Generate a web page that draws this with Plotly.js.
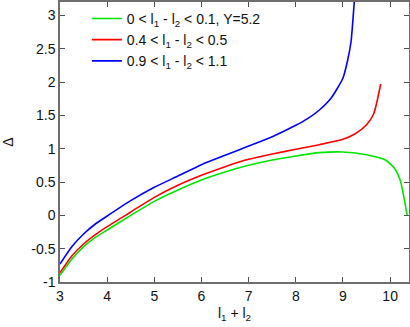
<!DOCTYPE html>
<html>
<head>
<meta charset="utf-8">
<script src="https://cdn.plot.ly/plotly-3.0.1.min.js"></script>
<style>
  html, body { margin: 0; padding: 0; background: #fff; }
  #chart { width: 410px; height: 327px; }
</style>
</head>
<body>
<div id="chart"></div>
<script>
// l1 + l2 values and Delta
var xGreen = [3.0, 3.25, 3.5, 3.75, 4.0, 4.5, 5.0, 5.5, 6.0, 6.5, 7.0, 7.5, 8.0, 8.5, 9.0, 9.5, 9.9, 10.1, 10.22, 10.36];
var yGreen = [-0.90, -0.66, -0.47, -0.33, -0.22, 0.0, 0.21, 0.38, 0.53, 0.65, 0.75, 0.83, 0.89, 0.94, 0.95, 0.91, 0.83, 0.70, 0.51, 0.0];

var xRed = [3.0, 3.25, 3.5, 3.75, 4.0, 4.5, 5.0, 5.5, 6.0, 6.5, 7.0, 7.5, 8.0, 8.5, 9.0, 9.25, 9.5, 9.65, 9.8];
var yRed = [-0.86, -0.61, -0.43, -0.29, -0.17, 0.05, 0.27, 0.45, 0.60, 0.73, 0.84, 0.92, 0.99, 1.06, 1.14, 1.22, 1.36, 1.52, 1.97];

var xBlue = [3.0, 3.25, 3.5, 3.75, 4.0, 4.5, 5.0, 5.5, 6.0, 6.5, 7.0, 7.5, 8.0, 8.25, 8.5, 8.75, 9.0, 9.1, 9.17, 9.2, 9.25];
var yBlue = [-0.73, -0.47, -0.28, -0.13, -0.01, 0.22, 0.42, 0.59, 0.76, 0.90, 1.04, 1.18, 1.35, 1.45, 1.58, 1.76, 2.06, 2.33, 2.6, 2.83, 3.3];

var names = [
  '0 < l<sub>1</sub> - l<sub>2</sub> < 0.1, Y=5.2',
  '0.4 < l<sub>1</sub> - l<sub>2</sub> < 0.5',
  '0.9 < l<sub>1</sub> - l<sub>2</sub> < 1.1'
];

var data = [
  {x: xGreen, y: yGreen, type: 'scatter', mode: 'lines', name: names[0],
   line: {color: 'rgb(0, 230, 0)', width: 1.6, shape: 'spline', smoothing: 0.6}},
  {x: xRed, y: yRed, type: 'scatter', mode: 'lines', name: names[1],
   line: {color: 'rgb(255, 0, 0)', width: 1.6, shape: 'spline', smoothing: 0.6}},
  {x: xBlue, y: yBlue, type: 'scatter', mode: 'lines', name: names[2],
   line: {color: 'rgb(0, 0, 255)', width: 1.6, shape: 'spline', smoothing: 0.6}}
];

var axisStyle = {
  showgrid: false,
  zeroline: false,
  showline: true,
  mirror: 'ticks',
  linecolor: 'rgb(110, 110, 110)',
  linewidth: 1.5,
  ticks: 'inside',
  ticklen: 5,
  tickwidth: 1,
  tickcolor: 'rgb(80, 80, 80)',
  tickfont: {size: 14, color: '#111'}
};

var layout = {
  width: 410,
  height: 327,
  margin: {l: 60, r: 1, t: 2, b: 45},
  paper_bgcolor: '#fff',
  plot_bgcolor: '#fff',
  font: {family: 'Liberation Sans, Arial, sans-serif', size: 14, color: '#111'},
  showlegend: true,
  legend: {
    x: 0.077, y: 0.997, xanchor: 'left', yanchor: 'top',
    bgcolor: 'rgba(0,0,0,0)',
    font: {size: 14},
    tracegroupgap: 0
  },
  xaxis: Object.assign({}, axisStyle, {
    range: [3, 10.4],
    tickvals: [3, 4, 5, 6, 7, 8, 9, 10],
    title: {text: 'l<sub>1</sub> + l<sub>2</sub>', standoff: 6, font: {size: 14}}
  }),
  yaxis: Object.assign({}, axisStyle, {
    range: [-1, 3.2],
    tickvals: [-1, -0.5, 0, 0.5, 1, 1.5, 2, 2.5, 3],
    ticktext: ['-1', '-0.5', '0', '0.5', '1', '1.5', '2', '2.5', '3'],
    title: {text: 'Δ', standoff: 20, font: {size: 14}}
  })
};

Plotly.newPlot('chart', data, layout, {displayModeBar: false});
</script>
</body>
</html>
